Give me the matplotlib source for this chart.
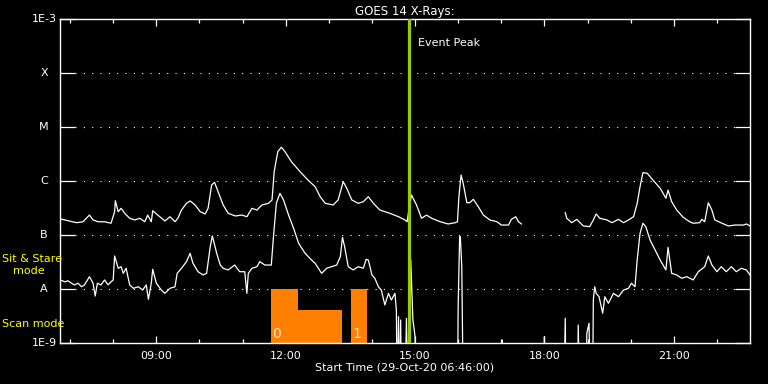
import numpy as np
import matplotlib.pyplot as plt
import matplotlib.transforms as mtransforms

# GOES 14 long channel (1-8 A), W/m^2 ; nan marks the data gap
long_times = ["06:46", "06:57", "07:09", "07:18", "07:27", "07:32", "07:39", "07:48", "07:57", "08:02",
              "08:03", "08:07", "08:11", "08:16", "08:23", "08:30", "08:37", "08:44", "08:48", "08:53",
              "08:55", "09:02", "09:12", "09:19", "09:26", "09:30", "09:35", "09:42", "09:47", "09:54",
              "10:01", "10:08", "10:12", "10:17", "10:21", "10:26", "10:33", "10:40", "10:50", "10:59",
              "11:06", "11:13", "11:20", "11:27", "11:36", "11:41", "11:44", "11:49", "11:54", "11:59",
              "12:08", "12:20", "12:31", "12:41", "12:48", "12:55", "13:06", "13:13", "13:20", "13:25",
              "13:32", "13:41", "13:48", "13:55", "14:02", "14:11", "14:25", "14:37", "14:46", "14:49",
              "14:51", "14:55", "15:02", "15:09", "15:16", "15:23", "15:35", "15:46", "15:56", "15:59",
              "16:01", "16:04", "16:07", "16:12", "16:16", "16:21", "16:28", "16:35", "16:44", "16:54",
              "17:00", "17:10", "17:14", "17:20", "17:24", "17:28", "18:00", "18:29", "18:31", "18:38",
              "18:45", "18:54", "19:03", "19:08", "19:12", "19:17", "19:27", "19:34", "19:43", "19:50",
              "19:57", "20:04", "20:09", "20:13", "20:17", "20:23", "20:31", "20:41", "20:49", "20:52",
              "20:57", "21:04", "21:13", "21:22", "21:27", "21:36", "21:39", "21:43", "21:48", "21:53",
              "21:57", "22:07", "22:16", "22:25", "22:37", "22:41", "22:46"]
long_flux = [2.0e-7, 1.84e-7, 1.69e-7, 1.76e-7, 2.34e-7, 1.90e-7, 1.76e-7, 1.76e-7, 1.65e-7, 2.70e-7,
             4.31e-7, 2.70e-7, 3.12e-7, 2.52e-7, 2.04e-7, 1.90e-7, 2.04e-7, 1.76e-7, 2.34e-7, 1.76e-7,
             2.82e-7, 2.34e-7, 1.82e-7, 2.18e-7, 1.76e-7, 2.04e-7, 2.90e-7, 3.86e-7, 4.27e-7, 3.60e-7,
             2.70e-7, 2.45e-7, 3.12e-7, 8.43e-7, 9.47e-7, 6.34e-7, 3.60e-7, 2.52e-7, 2.25e-7, 2.34e-7,
             2.18e-7, 3.12e-7, 2.90e-7, 3.60e-7, 3.86e-7, 4.45e-7, 1.49e-6, 3.49e-6, 4.23e-6, 3.49e-6,
             2.27e-6, 1.49e-6, 1.04e-6, 7.83e-7, 5.12e-7, 3.86e-7, 3.60e-7, 4.45e-7, 9.71e-7, 7.33e-7,
             4.45e-7, 3.86e-7, 4.14e-7, 5.12e-7, 3.86e-7, 2.90e-7, 2.52e-7, 2.18e-7, 1.90e-7, 1.76e-7,
             2.70e-7, 5.51e-7, 3.60e-7, 2.04e-7, 2.34e-7, 2.04e-7, 1.76e-7, 1.60e-7, 1.69e-7, 1.76e-7,
             5.12e-7, 1.29e-6, 9.06e-7, 3.96e-7, 3.96e-7, 4.58e-7, 3.34e-7, 2.34e-7, 1.90e-7, 1.76e-7,
             1.53e-7, 1.53e-7, 1.95e-7, 2.18e-7, 1.76e-7, 1.60e-7, np.nan, 2.59e-7, 2.04e-7, 1.69e-7,
             1.95e-7, 1.47e-7, 1.43e-7, 1.90e-7, 2.45e-7, 2.04e-7, 1.90e-7, 1.69e-7, 1.95e-7, 1.69e-7,
             1.90e-7, 2.18e-7, 3.86e-7, 7.83e-7, 1.43e-6, 1.39e-6, 1.04e-6, 7.33e-7, 4.79e-7, 6.81e-7,
             4.14e-7, 2.90e-7, 2.13e-7, 1.76e-7, 1.65e-7, 1.69e-7, 1.95e-7, 1.76e-7, 3.96e-7, 2.90e-7,
             1.90e-7, 1.65e-7, 1.47e-7, 1.53e-7, 1.53e-7, 1.60e-7, 1.47e-7]

# GOES 14 short channel (0.5-4 A), W/m^2 ; 1e-10 = below plot floor
short_times = ["06:46", "06:53", "06:57", "07:02", "07:06", "07:11", "07:16", "07:20", "07:27", "07:32",
               "07:35", "07:38", "07:43", "07:48", "07:53", "07:57", "08:00", "08:02", "08:07", "08:11",
               "08:14", "08:18", "08:23", "08:28", "08:35", "08:41", "08:46", "08:49", "08:53", "08:55",
               "09:00", "09:07", "09:12", "09:19", "09:26", "09:29", "09:35", "09:42", "09:47", "09:51",
               "09:58", "10:05", "10:10", "10:15", "10:18", "10:24", "10:29", "10:33", "10:40", "10:49",
               "10:56", "11:03", "11:06", "11:08", "11:13", "11:20", "11:24", "11:31", "11:40", "11:43",
               "11:47", "11:52", "11:57", "12:04", "12:11", "12:18", "12:27", "12:36", "12:41", "12:50",
               "12:57", "13:04", "13:11", "13:16", "13:19", "13:22", "13:27", "13:34", "13:41", "13:48",
               "13:52", "13:55", "14:00", "14:04", "14:09", "14:13", "14:18", "14:23", "14:27", "14:32",
               "14:34", "14:35", "14:37", "14:38", "14:40", "14:41", "14:46", "14:48", "14:50", "14:52",
               "14:54", "14:55", "14:57", "15:00", "15:01", "15:59", "16:00", "16:02", "16:03", "16:05",
               "16:07", "17:00", "17:01", "17:02", "17:59", "18:00", "18:01", "18:27", "18:29", "18:30",
               "18:46", "18:47", "18:49", "18:58", "18:59", "19:02", "19:04", "19:07", "19:08", "19:10",
               "19:12", "19:16", "19:21", "19:24", "19:29", "19:36", "19:43", "19:50", "19:57", "20:01",
               "20:06", "20:09", "20:13", "20:17", "20:21", "20:27", "20:34", "20:41", "20:49", "20:52",
               "20:57", "21:04", "21:11", "21:18", "21:27", "21:34", "21:43", "21:48", "21:53", "22:00",
               "22:06", "22:13", "22:20", "22:27", "22:34", "22:41", "22:46"]
short_flux = [1.47e-8, 1.36e-8, 1.42e-8, 1.28e-8, 1.19e-8, 1.28e-8, 1.10e-8, 1.19e-8, 1.69e-8, 1.28e-8,
              7.41e-9, 1.28e-8, 1.19e-8, 1.47e-8, 1.19e-8, 1.36e-8, 1.47e-8, 4.09e-8, 2.42e-8, 2.59e-8,
              1.95e-8, 2.42e-8, 1.19e-8, 1.03e-8, 1.10e-8, 9.57e-9, 1.19e-8, 6.44e-9, 1.28e-8, 2.32e-8,
              1.28e-8, 9.57e-9, 8.32e-9, 1.03e-8, 1.10e-8, 1.95e-8, 2.42e-8, 3.21e-8, 4.58e-8, 2.99e-8,
              2.09e-8, 1.82e-8, 1.95e-8, 6.07e-8, 9.57e-8, 4.58e-8, 2.78e-8, 2.42e-8, 2.25e-8, 2.78e-8,
              2.09e-8, 2.09e-8, 8.32e-9, 1.95e-8, 2.42e-8, 2.59e-8, 3.21e-8, 2.78e-8, 2.78e-8, 9.31e-8,
              3.86e-7, 5.92e-7, 4.45e-7, 2.34e-7, 1.33e-7, 7.02e-8, 4.58e-8, 3.44e-8, 2.99e-8, 1.95e-8,
              2.42e-8, 2.59e-8, 2.78e-8, 3.96e-8, 9.06e-8, 6.07e-8, 2.59e-8, 2.25e-8, 2.59e-8, 2.42e-8,
              3.55e-8, 3.44e-8, 1.82e-8, 1.58e-8, 1.10e-8, 9.57e-9, 5.06e-9, 8.32e-9, 6.25e-9, 8.32e-9,
              4.08e-9, 1e-10, 3.07e-9, 1e-10, 2.67e-9, 1e-10, 1e-10, 2.87e-9, 1e-10, 1e-10,
              3.44e-8, 1.47e-8, 2.67e-9, 1.31e-9, 1e-10, 1e-10, 5.06e-9, 9.31e-8, 9.31e-8, 2.59e-8,
              1e-10, 1e-10, 1.14e-9, 1e-10, 1e-10, 1.31e-9, 1e-10, 1e-10, 2.87e-9, 1e-10,
              1e-10, 2.15e-9, 1e-10, 1e-10, 1.51e-9, 2.32e-9, 1e-10, 1e-10, 6.25e-9, 1.10e-8,
              8.32e-9, 7.19e-9, 3.55e-9, 7.19e-9, 5.43e-9, 8.32e-9, 7.19e-9, 9.57e-9, 1.03e-8, 1.28e-8,
              1.10e-8, 3.44e-8, 1.07e-7, 1.65e-7, 1.43e-7, 8.07e-8, 5.27e-8, 3.44e-8, 2.25e-8, 5.91e-8,
              1.95e-8, 1.82e-8, 1.58e-8, 1.69e-8, 1.47e-8, 2.09e-8, 2.59e-8, 4.09e-8, 2.78e-8, 2.09e-8,
              2.59e-8, 2.09e-8, 2.59e-8, 2.09e-8, 2.42e-8, 2.25e-8, 1.82e-8]

# scan-mode blocks (orange)
scan_start = ["11:39", "12:17", "13:31"]
scan_end = ["12:17", "13:18", "13:53"]
scan_top = [1e-8, 4e-9, 1e-8]
scan_labels = ["0", "", "1"]

event_peak = "14:52"
start_time = "06:46"

level_values = [1e-9, 1e-8, 1e-7, 1e-6, 1e-5, 1e-4, 1e-3]
level_labels = ["1E-9", "A", "B", "C", "M", "X", "1E-3"]
hour_major = [9, 12, 15, 18, 21]


def to_hours(t):
	h, m = t.split(':')
	return int(h) + int(m) / 60.0


FG = 'white'
plt.rcParams['font.family'] = 'DejaVu Sans'
plt.rcParams['font.size'] = 8

fig = plt.figure(figsize=(7.68, 3.84), dpi=100, facecolor='black')
ax = fig.add_axes([60 / 768, 41 / 384, 690 / 768, 324 / 384])
ax.set_facecolor('black')

t0 = to_hours(start_time)
ax.set_xlim(t0, t0 + 16)
ax.set_yscale('log')
ax.set_ylim(1e-9, 1e-3)

# scan-mode bars
for s, e, top, lab in zip(scan_start, scan_end, scan_top, scan_labels):
	xs, xe = to_hours(s), to_hours(e)
	ax.bar(xs, top - 1e-10, width=xe - xs, bottom=1e-10, align='edge', color='#ff8000', lw=0, zorder=2)
	if lab:
		ax.text(xs + 0.03, 1.25e-9, lab, color='#ffe8d0', fontsize=10, ha='left', va='baseline', zorder=3)

# level lines (dotted) with short solid segments at each side
for v in level_values[1:-1]:
	ax.axhline(v, xmin=15 / 690, xmax=1 - 15 / 690, color=FG, lw=0.8, ls=(0, (1, 6.5)), zorder=1)

ax.plot([to_hours(t) for t in long_times], long_flux, color=FG, lw=0.9, zorder=4)
ax.plot([to_hours(t) for t in short_times], short_flux, color=FG, lw=0.9, zorder=4)

# event peak marker
tp = to_hours(event_peak)
ax.axvline(tp, color='#99cc00', lw=2.3, zorder=5)
ax.text(tp + 0.2, 10 ** (-3 - 24 / 54), 'Event Peak', color=FG, fontsize=8, ha='left', va='center')

# y axis: custom labels
ax.yaxis.set_minor_locator(plt.NullLocator())
ax.set_yticks(level_values)
ax.set_yticklabels([])
ax.tick_params(axis='y', which='major', direction='in', length=10.8, width=0.9, color=FG,
               left=True, right=True)
trans = mtransforms.blended_transform_factory(fig.transFigure, ax.transData)
for v, lab in zip(level_values, level_labels):
	if lab.startswith('1E'):
		ax.text(57 / 768, v, lab, transform=trans, color=FG, ha='right', va='center', fontsize=8)
	else:
		ax.text(44 / 768, v, lab, transform=trans, color=FG, ha='center', va='center', fontsize=8)

# x axis: hour ticks
ax.set_xticks(hour_major)
ax.set_xticklabels(['%02d:00' % h for h in hour_major], color=FG, fontsize=8)
ax.set_xticks(range(7, 23), minor=True)
ax.tick_params(axis='x', which='major', direction='in', length=5, width=0.9, color=FG,
               top=True, bottom=True, pad=6)
ax.tick_params(axis='x', which='minor', direction='in', length=3, width=0.9, color=FG,
               top=True, bottom=True)

for sp in ax.spines.values():
	sp.set_color(FG)
	sp.set_linewidth(1.0)

ax.set_title('GOES 14 X-Rays:', color=FG, fontsize=8.5, pad=3)
ax.set_xlabel('Start Time (29-Oct-20 06:46:00)', color=FG, fontsize=8, labelpad=1)

# mode labels
fig.text(2 / 768, 1 - 259 / 384, 'Sit & Stare', color='yellow', fontsize=8, ha='left', va='center')
fig.text(13 / 768, 1 - 271 / 384, 'mode', color='yellow', fontsize=8, ha='left', va='center')
fig.text(2 / 768, 1 - 324 / 384, 'Scan mode', color='yellow', fontsize=8, ha='left', va='center')

fig.savefig('out.png', dpi=100, facecolor='black')
